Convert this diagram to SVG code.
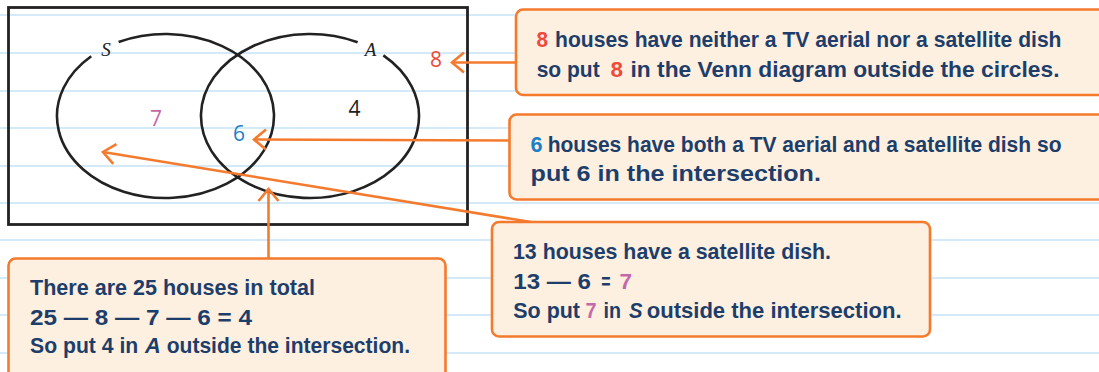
<svg xmlns="http://www.w3.org/2000/svg" width="1099" height="372" viewBox="0 0 1099 372">
  <defs>
    <style>
      .rule { stroke: #d4eaf8; stroke-width: 2; }
      .set { fill: none; stroke: #222; stroke-width: 2.6; }
      .frame { fill: none; stroke: #222; stroke-width: 2.8; }
      .lbl { font-family: "Liberation Serif", serif; font-style: italic; font-size: 19px; fill: #222; text-anchor: middle; }
      .num { font-family: "Open Sans", "Liberation Sans", sans-serif; font-size: 21px; text-anchor: middle; }
      .box { fill: #fdf0e1; stroke: #f47a2e; stroke-width: 2.6; }
      .txt { font-family: "Liberation Sans", Arial, sans-serif; font-weight: bold; font-size: 22.5px; fill: #1d3e6a; }
      .it { font-style: italic; }
      .conn { fill: none; stroke: #f47a2e; stroke-width: 2.6; }
      .red { fill: #ec4a3a; }
      .blue { fill: #1c7fc6; }
      .pink { fill: #c568a9; }
    </style>
    <marker id="chev" markerUnits="userSpaceOnUse" viewBox="-14 -12 16 24" refX="0" refY="0" markerWidth="16" markerHeight="24" orient="auto">
      <path d="M -12 -10 L 0 0 L -12 10" fill="none" stroke="#f47a2e" stroke-width="2.6"/>
    </marker>
  </defs>

  <rect x="0" y="0" width="1099" height="372" fill="#fff"/>
  <g id="ruling">
    <line class="rule" x1="0" y1="15" x2="1099" y2="15"/>
    <line class="rule" x1="0" y1="53" x2="1099" y2="53"/>
    <line class="rule" x1="0" y1="91" x2="1099" y2="91"/>
    <line class="rule" x1="0" y1="128" x2="1099" y2="128"/>
    <line class="rule" x1="0" y1="166" x2="1099" y2="166"/>
    <line class="rule" x1="0" y1="203" x2="1099" y2="203"/>
    <line class="rule" x1="0" y1="240" x2="1099" y2="240"/>
    <line class="rule" x1="0" y1="278" x2="1099" y2="278"/>
    <line class="rule" x1="0" y1="315" x2="1099" y2="315"/>
    <line class="rule" x1="0" y1="353" x2="1099" y2="353"/>
  </g>

  <g id="venn">
    <rect class="frame" x="8.5" y="7.5" width="459" height="217"/>
    <path id="setS" class="set" d="M 118.62 42.05 A 108.5 82 0 1 1 91.23 56.22"/>
    <path id="setA" class="set" d="M 383.36 55.35 A 109 82 0 1 1 357.61 42.23"/>
    <text class="lbl" x="106" y="56">S</text>
    <text class="lbl" x="370.5" y="56">A</text>
    <text class="num pink" x="156" y="126">7</text>
    <text class="num blue" x="239" y="141">6</text>
    <text class="num" x="354.5" y="116" fill="#222">4</text>
    <text class="num red" x="436" y="67">8</text>
  </g>

  <g id="connectors">
    <line class="conn" x1="516" y1="62.5" x2="452" y2="62.5" marker-end="url(#chev)"/>
    <line class="conn" x1="509" y1="140.5" x2="254" y2="139.5" marker-end="url(#chev)"/>
    <line class="conn" x1="531" y1="222" x2="103" y2="152" marker-end="url(#chev)"/>
    <line class="conn" x1="268.5" y1="258" x2="268.5" y2="189" marker-end="url(#chev)"/>
  </g>

  <g id="note-outside">
    <rect class="box" x="516" y="9.5" width="590" height="85.5" rx="7"/>
    <text class="txt red" x="536.5" y="47" textLength="11.5" lengthAdjust="spacingAndGlyphs">8</text>
    <text class="txt" x="555" y="47" textLength="506.5" lengthAdjust="spacingAndGlyphs">houses have neither a TV aerial nor a satellite dish</text>
    <text class="txt" x="536.7" y="76.5" textLength="63" lengthAdjust="spacingAndGlyphs">so put</text>
    <text class="txt red" x="610.5" y="76.5" textLength="12.5" lengthAdjust="spacingAndGlyphs">8</text>
    <text class="txt" x="630.5" y="76.5" textLength="429" lengthAdjust="spacingAndGlyphs">in the Venn diagram outside the circles.</text>
  </g>

  <g id="note-intersection">
    <rect class="box" x="509.5" y="114.5" width="596" height="85" rx="7"/>
    <text class="txt blue" x="530.6" y="151.5" textLength="12" lengthAdjust="spacingAndGlyphs">6</text>
    <text class="txt" x="547.7" y="151.5" textLength="513.8" lengthAdjust="spacingAndGlyphs">houses have both a TV aerial and a satellite dish so</text>
    <text class="txt" x="530.6" y="181" font-size="23.5" textLength="290.3" lengthAdjust="spacingAndGlyphs">put 6 in the intersection.</text>
  </g>

  <g id="note-S">
    <rect class="box" x="492" y="222" width="438" height="114.5" rx="7"/>
    <text class="txt" x="513" y="258.5" textLength="318" lengthAdjust="spacingAndGlyphs">13 houses have a satellite dish.</text>
    <text class="txt" x="513.3" y="289" textLength="77.7" lengthAdjust="spacingAndGlyphs">13 — 6</text>
    <text class="txt" x="601.2" y="289" font-weight="normal" textLength="9.3" lengthAdjust="spacingAndGlyphs">=</text>
    <text class="txt pink" x="619.5" y="289" textLength="12.5" lengthAdjust="spacingAndGlyphs">7</text>
    <text class="txt" x="513.3" y="317.5" textLength="66.7" lengthAdjust="spacingAndGlyphs">So put</text>
    <text class="txt pink" x="585.5" y="317.5" textLength="11" lengthAdjust="spacingAndGlyphs">7</text>
    <text class="txt" x="603.5" y="317.5" textLength="17.5" lengthAdjust="spacingAndGlyphs">in</text>
    <text class="txt it" x="629" y="317.5" textLength="13.5" lengthAdjust="spacingAndGlyphs">S</text>
    <text class="txt" x="646.7" y="317.5" textLength="255" lengthAdjust="spacingAndGlyphs">outside the intersection.</text>
  </g>

  <g id="note-A">
    <rect class="box" x="8.5" y="258.5" width="437" height="125" rx="7"/>
    <text class="txt" x="30" y="295" textLength="285" lengthAdjust="spacingAndGlyphs">There are 25 houses in total</text>
    <text class="txt" x="30" y="325" textLength="222" lengthAdjust="spacingAndGlyphs">25 — 8 — 7 — 6 = 4</text>
    <text class="txt" x="30" y="353" textLength="108.3" lengthAdjust="spacingAndGlyphs">So put 4 in</text>
    <text class="txt it" x="145" y="353" textLength="15.7" lengthAdjust="spacingAndGlyphs">A</text>
    <text class="txt" x="166.7" y="353" textLength="243.3" lengthAdjust="spacingAndGlyphs">outside the intersection.</text>
  </g>
</svg>
